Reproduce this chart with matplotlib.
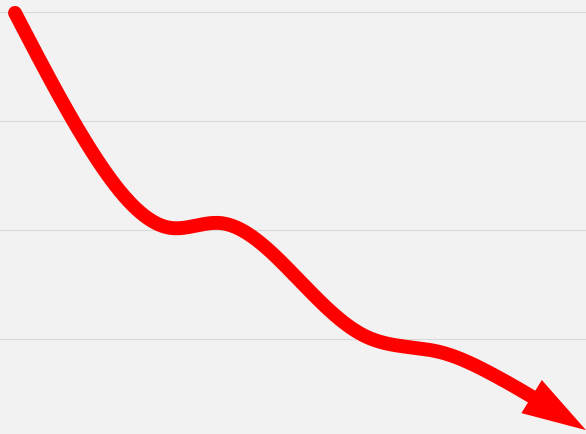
import numpy as np
import matplotlib
matplotlib.use('Agg')
import matplotlib.pyplot as plt

# values (x in steps, y on the 0-100 grid)
x_vals = [0, 0.76, 1.55, 2.05, 2.82, 3.48, 4.25, 4.75, 5.71]
y_vals = [99.8, 68.3, 50.5, 51.6, 39.0, 25.9, 22.0, 17.2, 4.1]
grid_levels = [25, 50, 75, 100]


def natural_spline(xs, ys, n=600):
    # plain natural cubic spline y(x)
    x = np.asarray(xs, float)
    y = np.asarray(ys, float)
    k = len(x)
    h = np.diff(x)
    A = np.zeros((k, k))
    b = np.zeros(k)
    A[0, 0] = A[-1, -1] = 1
    for i in range(1, k - 1):
        A[i, i - 1] = h[i - 1]
        A[i, i] = 2 * (h[i - 1] + h[i])
        A[i, i + 1] = h[i]
        b[i] = 6 * ((y[i + 1] - y[i]) / h[i] - (y[i] - y[i - 1]) / h[i - 1])
    M = np.linalg.solve(A, b)
    xx = np.linspace(x[0], x[-1], n)
    j = np.clip(np.searchsorted(x, xx) - 1, 0, k - 2)
    t0 = x[j + 1] - xx
    t1 = xx - x[j]
    yy = (M[j] * t0 ** 3 / (6 * h[j]) + M[j + 1] * t1 ** 3 / (6 * h[j])
          + (y[j] / h[j] - M[j] * h[j] / 6) * t0
          + (y[j + 1] / h[j] - M[j + 1] * h[j] / 6) * t1)
    return np.column_stack([xx, yy])


fig = plt.figure(figsize=(5.86, 4.34), dpi=100)
fig.patch.set_facecolor('#f2f2f2')
ax = fig.add_axes([0, 0, 1, 1])
ax.set_facecolor('#f2f2f2')
ax.set_xlim(-0.15, 5.71)
ax.set_ylim(3.21, 102.75)
for s in ax.spines.values():
    s.set_visible(False)
ax.set_xticks([])
ax.set_yticks([])
for g in grid_levels:
    ax.axhline(g, color='#d9d9d9', lw=0.8, zorder=1)

curve = natural_spline(x_vals, y_vals)
pix = ax.transData.transform(curve)
tip = pix[-1]
dist = np.hypot(*(pix - tip).T)
i_base = np.where(dist >= 64)[0][-1]
i_end = np.where(dist >= 40)[0][-1]

ax.plot(curve[:i_end + 1, 0], curve[:i_end + 1, 1], color='#ff0000',
        lw=10, solid_capstyle='round', zorder=3)
ax.annotate('', xy=(curve[-1, 0], curve[-1, 1]),
            xytext=(curve[i_base, 0], curve[i_base, 1]),
            arrowprops=dict(arrowstyle='-|>,head_length=46,head_width=14',
                            mutation_scale=1, color='#ff0000', lw=0,
                            shrinkA=0, shrinkB=0),
            zorder=4)

fig.savefig('out.png', dpi=100, facecolor=fig.get_facecolor())
